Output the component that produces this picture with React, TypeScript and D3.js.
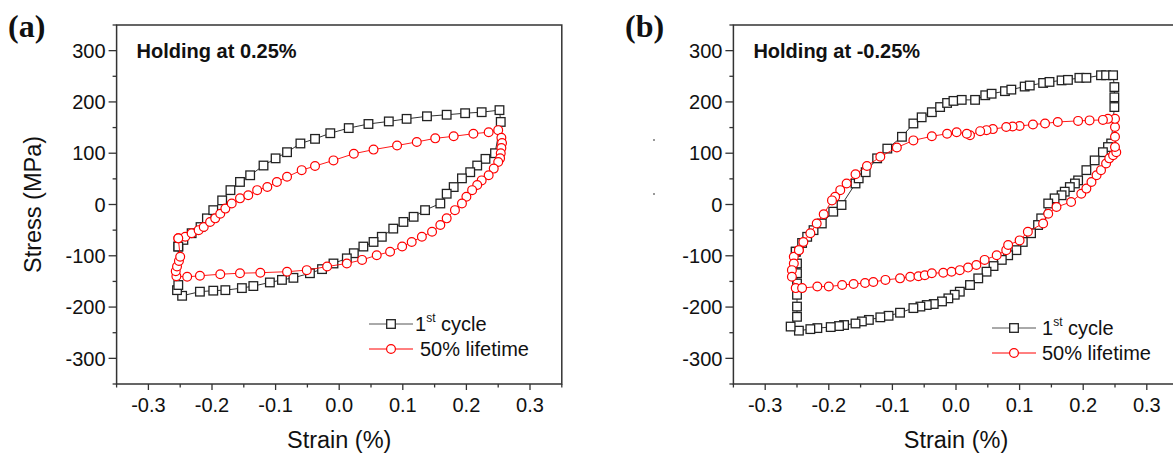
import * as d3 from 'd3'

// strain (%), stress (MPa)
const aFirstCycle: [number, number][] = [
  [-0.253, -82], [-0.245, -69], [-0.232, -56], [-0.218, -44], [-0.208, -27], [-0.198, -11],
  [-0.184, 8], [-0.171, 28], [-0.156, 44], [-0.14, 57], [-0.119, 76], [-0.1, 90], [-0.082, 102],
  [-0.061, 119], [-0.038, 128], [-0.014, 139], [0.015, 149], [0.046, 157], [0.078, 162],
  [0.106, 167], [0.138, 172], [0.169, 175], [0.198, 178], [0.224, 180], [0.252, 184],
  [0.254, 161], [0.245, 100], [0.23, 89], [0.217, 76], [0.206, 63], [0.193, 51], [0.18, 34],
  [0.169, 21], [0.159, 2], [0.135, -11], [0.117, -24], [0.101, -34], [0.085, -47], [0.067, -63],
  [0.054, -73], [0.038, -82], [0.023, -95], [0.012, -105], [-0.009, -115], [-0.027, -126],
  [-0.046, -134], [-0.072, -143], [-0.09, -147], [-0.109, -152], [-0.135, -159], [-0.153, -163],
  [-0.179, -167], [-0.198, -168], [-0.219, -170], [-0.247, -178], [-0.255, -167], [-0.253, -157],
  [-0.253, -82],
]

const aHalfLife: [number, number][] = [
  [-0.253, -66], [-0.242, -63], [-0.232, -56], [-0.221, -50], [-0.213, -44], [-0.203, -34],
  [-0.195, -27], [-0.187, -18], [-0.179, -8], [-0.169, 2], [-0.156, 12], [-0.143, 18],
  [-0.129, 28], [-0.113, 34], [-0.098, 44], [-0.082, 54], [-0.059, 67], [-0.038, 75],
  [-0.009, 86], [0.023, 99], [0.054, 107], [0.091, 115], [0.122, 122], [0.151, 129],
  [0.18, 133], [0.211, 138], [0.235, 141], [0.25, 145], [0.255, 130], [0.256, 120],
  [0.255, 110], [0.254, 100], [0.253, 90], [0.25, 83], [0.243, 70], [0.235, 57], [0.224, 47],
  [0.217, 38], [0.209, 28], [0.2, 15], [0.193, 2], [0.182, -11], [0.169, -27], [0.159, -40],
  [0.146, -53], [0.13, -63], [0.114, -73], [0.099, -82], [0.08, -92], [0.059, -99],
  [0.036, -108], [0.012, -115], [-0.019, -121], [-0.051, -128], [-0.082, -131], [-0.124, -133],
  [-0.156, -134], [-0.187, -136], [-0.219, -139], [-0.239, -141], [-0.256, -140],
  [-0.257, -130], [-0.255, -121], [-0.252, -110], [-0.25, -102], [-0.253, -66],
]

const bFirstCycle: [number, number][] = [
  [-0.252, -92], [-0.242, -75], [-0.234, -63], [-0.224, -50], [-0.211, -37], [-0.193, -14],
  [-0.18, -1], [-0.158, 41], [-0.153, 51], [-0.142, 63], [-0.124, 90], [-0.108, 109],
  [-0.085, 132], [-0.067, 158], [-0.054, 170], [-0.038, 180], [-0.025, 190], [-0.014, 198],
  [-0.004, 202], [0.009, 204], [0.03, 204], [0.046, 213], [0.056, 216], [0.077, 221],
  [0.087, 224], [0.108, 230], [0.116, 232], [0.137, 237], [0.147, 239], [0.166, 242],
  [0.176, 243], [0.194, 247], [0.205, 247], [0.228, 252], [0.236, 252], [0.247, 252],
  [0.249, 229], [0.249, 209], [0.249, 190], [0.244, 119], [0.239, 112], [0.231, 102],
  [0.218, 86], [0.205, 67], [0.192, 47], [0.187, 41], [0.179, 34], [0.171, 25], [0.166, 18],
  [0.155, 12], [0.145, 2], [0.134, -27], [0.129, -40], [0.118, -56], [0.105, -73],
  [0.095, -89], [0.082, -99], [0.072, -108], [0.059, -120], [0.048, -131], [0.035, -144],
  [0.022, -157], [0.006, -170], [-0.002, -176], [-0.012, -183], [-0.022, -189], [-0.035, -194],
  [-0.046, -196], [-0.056, -199], [-0.067, -202], [-0.088, -211], [-0.106, -217],
  [-0.119, -220], [-0.137, -225], [-0.148, -228], [-0.158, -232], [-0.176, -235],
  [-0.184, -237], [-0.197, -239], [-0.218, -241], [-0.229, -243], [-0.247, -246],
  [-0.26, -238], [-0.25, -219], [-0.25, -199], [-0.25, -176], [-0.25, -154], [-0.25, -134],
  [-0.25, -115], [-0.252, -92],
]

const bHalfLife: [number, number][] = [
  [-0.247, -89], [-0.255, -102], [-0.255, -115], [-0.258, -128], [-0.258, -141], [-0.252, -163],
  [-0.242, -163], [-0.218, -160], [-0.2, -160], [-0.179, -157], [-0.161, -155], [-0.143, -153],
  [-0.13, -151], [-0.111, -147], [-0.088, -144], [-0.072, -141], [-0.059, -140], [-0.049, -138],
  [-0.038, -134], [-0.02, -133], [-0.007, -131], [0.006, -128], [0.019, -123], [0.032, -118],
  [0.045, -108], [0.064, -99], [0.079, -89], [0.082, -79], [0.1, -70], [0.113, -53],
  [0.137, -37], [0.145, -18], [0.158, -5], [0.181, 5], [0.197, 21], [0.205, 31], [0.213, 44],
  [0.221, 57], [0.228, 67], [0.236, 80], [0.241, 90], [0.247, 96], [0.252, 102], [0.25, 112],
  [0.25, 132], [0.25, 151], [0.25, 167], [0.239, 167], [0.231, 165], [0.21, 164], [0.192, 163],
  [0.16, 161], [0.14, 158], [0.121, 156], [0.1, 153], [0.089, 152], [0.079, 151], [0.058, 147],
  [0.048, 145], [0.038, 143], [0.022, 135], [0.017, 138], [0.001, 141], [-0.014, 138],
  [-0.038, 133], [-0.067, 125], [-0.093, 111], [-0.119, 93], [-0.14, 75], [-0.158, 59],
  [-0.172, 41], [-0.182, 28], [-0.19, 15], [-0.195, 8], [-0.208, -19], [-0.219, -37],
  [-0.229, -56], [-0.24, -73], [-0.247, -89],
]

const strainTicks = [-0.3, -0.2, -0.1, 0, 0.1, 0.2, 0.3]
const strainTickLabels = ['-0.3', '-0.2', '-0.1', '0.0', '0.1', '0.2', '0.3']
const strainMinor = [-0.35, -0.25, -0.15, -0.05, 0.05, 0.15, 0.25, 0.35]
const stressTicks = [-300, -200, -100, 0, 100, 200, 300]
const stressTickLabels = ['-300', '-200', '-100', '0', '100', '200', '300']
const stressMinor = [-350, -250, -150, -50, 50, 150, 250, 350]

const seriesNames = ['1st cycle', '50% lifetime']

const W = 1173
const H = 457
const TOP = 25
const BOTTOM = 384
const SANS = "Arial, 'Liberation Sans', Arimo, sans-serif"
const AXIS = '#333'
const RED = '#ff0000'

function Square({ x, y }: { x: number; y: number }) {
  return <rect x={x - 4.3} y={y - 4.3} width={8.6} height={8.6} fill="#fff" stroke="#222" strokeWidth={1.3} />
}

function Ring({ x, y }: { x: number; y: number }) {
  return <circle cx={x} cy={y} r={4.4} fill="#fff" stroke={RED} strokeWidth={1.2} />
}

type PanelProps = {
  left: number
  letter: string
  letterX: number
  note: string
  first: [number, number][]
  half: [number, number][]
  legendX: number
  legendY: number
  legendTextX: number[]
  showYLabel: boolean
}

function Panel(p: PanelProps) {
  const x = d3.scaleLinear().domain([-0.35, 0.35]).range([p.left, p.left + 445.2])
  const y = d3.scaleLinear().domain([-350, 350]).range([BOTTOM, TOP])
  const line = d3.line<[number, number]>().x((d) => x(d[0])).y((d) => y(d[1]))
  const [x0, x1] = x.range()

  return (
    <g>
      <text x={p.letterX} y={37} fontFamily="'Times New Roman', 'Liberation Serif', serif" fontWeight="bold" fontSize={32} fill="#111">
        {p.letter}
      </text>

      {/* frame */}
      <rect x={x0} y={TOP} width={x1 - x0} height={BOTTOM - TOP} fill="none" stroke={AXIS} strokeWidth={1.5} />

      {stressTicks.map((t, i) => (
        <g key={`y${t}`}>
          <line x1={x0 - 8} x2={x0} y1={y(t)} y2={y(t)} stroke={AXIS} strokeWidth={1.3} />
          <text x={x0 - 11} y={y(t)} dy="0.36em" textAnchor="end" fontFamily={SANS} fontSize={20} fill="#111">
            {stressTickLabels[i]}
          </text>
        </g>
      ))}
      {stressMinor.map((t) => (
        <line key={`ym${t}`} x1={x0 - 4} x2={x0} y1={y(t)} y2={y(t)} stroke={AXIS} strokeWidth={1.3} />
      ))}
      {strainTicks.map((t, i) => (
        <g key={`x${t}`}>
          <line x1={x(t)} x2={x(t)} y1={BOTTOM} y2={BOTTOM + 6} stroke={AXIS} strokeWidth={1.3} />
          <text x={x(t)} y={412} textAnchor="middle" fontFamily={SANS} fontSize={20} fill="#111">
            {strainTickLabels[i]}
          </text>
        </g>
      ))}
      {strainMinor.map((t) => (
        <line key={`xm${t}`} x1={x(t)} x2={x(t)} y1={BOTTOM} y2={BOTTOM + 3.5} stroke={AXIS} strokeWidth={1.3} />
      ))}

      <text x={x(0)} y={448} textAnchor="middle" fontFamily={SANS} fontSize={23.5} fill="#111">
        Strain (%)
      </text>
      {p.showYLabel && (
        <text transform={`translate(41,${y(0)}) rotate(-90)`} textAnchor="middle" fontFamily={SANS} fontSize={23.5} fill="#111">
          Stress (MPa)
        </text>
      )}

      <text x={x0 + 20} y={58} fontFamily={SANS} fontWeight="bold" fontSize={20} fill="#111">
        {p.note}
      </text>

      {/* series */}
      <path d={line(p.first) ?? ''} fill="none" stroke="#333" strokeWidth={1} />
      {p.first.map((d, i) => (
        <Square key={`s${i}`} x={x(d[0])} y={y(d[1])} />
      ))}
      <path d={line(p.half) ?? ''} fill="none" stroke={RED} strokeWidth={0.9} />
      {p.half.map((d, i) => (
        <Ring key={`c${i}`} x={x(d[0])} y={y(d[1])} />
      ))}

      {/* legend */}
      <line x1={p.legendX} x2={p.legendX + 44} y1={p.legendY} y2={p.legendY} stroke="#555" strokeWidth={1} />
      <Square x={p.legendX + 22} y={p.legendY} />
      <text x={p.legendTextX[0]} y={p.legendY + 7} fontFamily={SANS} fontSize={20} fill="#111">
        1<tspan fontSize={12} dy={-9}>st</tspan>
        <tspan dy={9}> cycle</tspan>
      </text>
      <line x1={p.legendX} x2={p.legendX + 44} y1={p.legendY + 25} y2={p.legendY + 25} stroke={RED} strokeWidth={1} />
      <Ring x={p.legendX + 22} y={p.legendY + 25} />
      <text x={p.legendTextX[1]} y={p.legendY + 32} fontFamily={SANS} fontSize={20} fill="#111">
        {seriesNames[1]}
      </text>
    </g>
  )
}

export default function App() {
  return (
    <svg width={W} height={H} viewBox={`0 0 ${W} ${H}`} style={{ position: 'absolute', left: 0, top: 0, background: '#fff' }}>
      <rect width={W} height={H} fill="#fff" />
      <Panel
        left={116.6}
        letter="(a)"
        letterX={8}
        note="Holding at 0.25%"
        first={aFirstCycle}
        half={aHalfLife}
        legendX={369}
        legendY={324}
        legendTextX={[415, 420]}
        showYLabel
      />
      <Panel
        left={733.4}
        letter="(b)"
        letterX={625}
        note="Holding at -0.25%"
        first={bFirstCycle}
        half={bHalfLife}
        legendX={992}
        legendY={328}
        legendTextX={[1042, 1042]}
        showYLabel={false}
      />
      <circle cx={654} cy={140} r={1} fill="#777" />
      <circle cx={654} cy={194} r={1} fill="#777" />
    </svg>
  )
}
